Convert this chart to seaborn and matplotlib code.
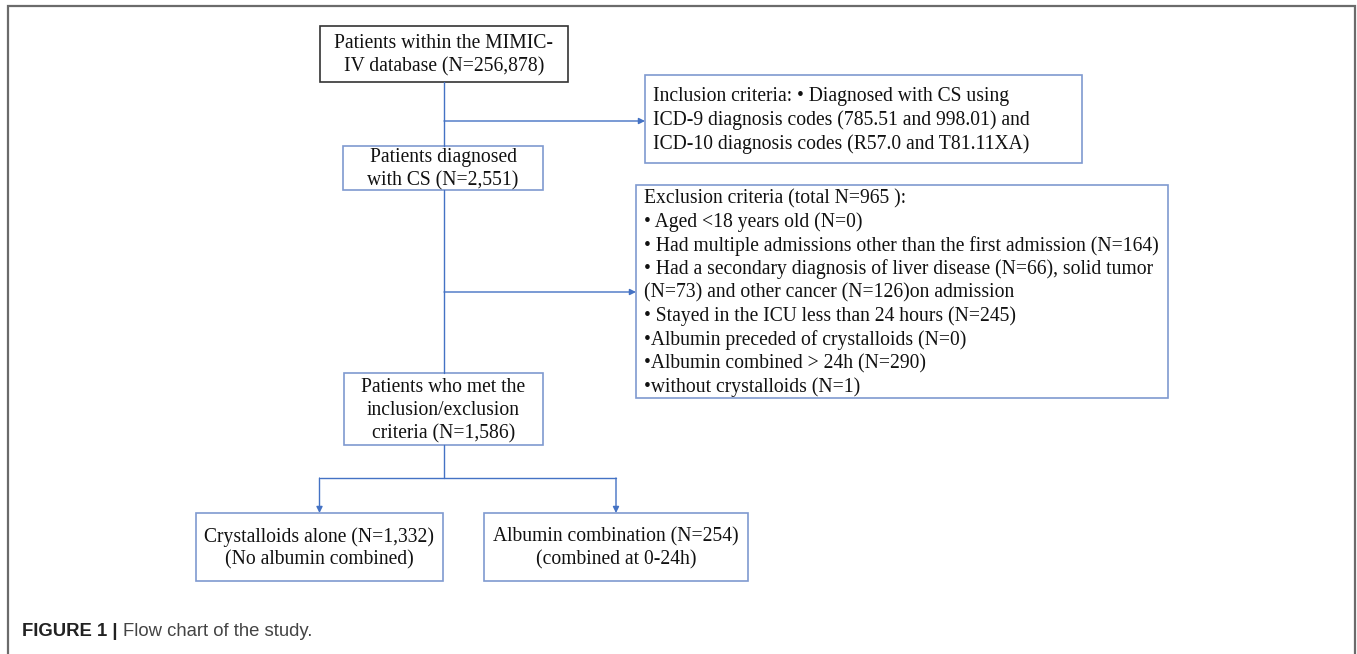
import matplotlib.pyplot as plt
import seaborn as sns
from matplotlib.patches import Rectangle

sns.set_theme(style="white")
plt.rcParams["font.family"] = ["Liberation Serif", "DejaVu Serif"]

# %% flow chart content
main_labels = [
    ["Patients within the MIMIC-", "IV database (N=256,878)"],
    ["Patients diagnosed", "with CS (N=2,551)"],
    ["Patients who met the", "inclusion/exclusion", "criteria (N=1,586)"],
]
group_labels = [
    ["Crystalloids alone (N=1,332)", "(No albumin combined)"],
    ["Albumin combination (N=254)", "(combined at 0-24h)"],
]
inclusion_lines = [
    "Inclusion criteria: \u2022 Diagnosed with CS using",
    "ICD-9 diagnosis codes (785.51 and 998.01) and",
    "ICD-10 diagnosis codes (R57.0 and T81.11XA)",
]
exclusion_lines = [
    "Exclusion criteria (total N=965 ):",
    "\u2022 Aged <18 years old (N=0)",
    "\u2022 Had multiple admissions other than the first admission (N=164)",
    "\u2022 Had a secondary diagnosis of liver disease (N=66), solid tumor",
    "(N=73) and other cancer (N=126)on admission",
    "\u2022 Stayed in the ICU less than 24 hours (N=245)",
    "\u2022Albumin preceded of crystalloids (N=0)",
    "\u2022Albumin combined > 24h (N=290)",
    "\u2022without crystalloids (N=1)",
]
caption_bold = "FIGURE 1 |"
caption_text = "Flow chart of the study."

# %% layout (pixel coordinates, y downwards)
main_boxes = [(320, 26, 248, 56), (343, 146, 200, 44), (344, 373, 199, 72)]
group_boxes = [(196, 513, 247, 68), (484, 513, 264, 68)]
inc_box = (645, 75, 437, 88)
exc_box = (636, 185, 532, 213)
spine_x = 444
blue = "#4472C4"
edge_blue = "#7F9AD0"
fs = 14.1
dy = 23.5

fig = plt.figure(figsize=(13.57, 6.54), dpi=100)
ax = fig.add_axes([0, 0, 1, 1])
ax.set_xlim(0, 1357)
ax.set_ylim(654, 0)
ax.axis("off")

# outer frame (open at bottom)
ax.plot([8, 8, 1355, 1355], [654, 6, 6, 654], color="#6b6b6b", lw=1.6,
        solid_joinstyle="miter")


def box(rect, lines, color, align="center"):
    x, y, w, h = rect
    ax.add_patch(Rectangle((x, y), w, h, fill=False, ec=color, lw=1.2))
    n = len(lines)
    y0 = y + h / 2 - (n - 1) * dy / 2 + 1.5
    for i, t in enumerate(lines):
        if align == "center":
            ax.text(x + w / 2, y0 + i * dy, t, ha="center", va="center",
                    fontsize=fs, color="#111111")
        else:
            ax.text(x + 8, y0 + i * dy, t, ha="left", va="center",
                    fontsize=fs, color="#111111")


box(main_boxes[0], main_labels[0], "#333333")
box(main_boxes[1], main_labels[1], edge_blue)
box(main_boxes[2], main_labels[2], edge_blue)
for rect, lab in zip(group_boxes, group_labels):
    box(rect, lab, edge_blue)
box(inc_box, inclusion_lines, edge_blue, align="left")
box(exc_box, exclusion_lines, edge_blue, align="left")

# connectors
lw = 1.0
ax.plot([spine_x, spine_x], [82, 146], color=blue, lw=lw)
ax.plot([spine_x, spine_x], [190, 373], color=blue, lw=lw)
arrow = dict(arrowstyle="-|>", color=blue, lw=lw, mutation_scale=9,
             shrinkA=0, shrinkB=0)
ax.annotate("", xy=(inc_box[0], 121), xytext=(spine_x, 121), arrowprops=arrow)
ax.annotate("", xy=(exc_box[0], 292), xytext=(spine_x, 292), arrowprops=arrow)

split_y = 478
ax.plot([spine_x, spine_x], [445, split_y], color=blue, lw=lw)
gx = [r[0] + r[2] / 2 for r in group_boxes]
ax.plot([gx[0], gx[1]], [split_y, split_y], color=blue, lw=lw)
for x in gx:
    ax.annotate("", xy=(x, 513), xytext=(x, split_y), arrowprops=arrow)

# caption
t = ax.text(22, 631, caption_bold + " ", ha="left", va="center", fontsize=13.3,
            fontweight="bold", color="#222222", family="Liberation Sans")
fig.canvas.draw()
bb = t.get_window_extent()
x_end = ax.transData.inverted().transform((bb.x1, bb.y0))[0]
ax.text(x_end, 631, caption_text, ha="left", va="center", fontsize=13.3,
        color="#444444", family="Liberation Sans")

plt.savefig("out.png", dpi=100)
